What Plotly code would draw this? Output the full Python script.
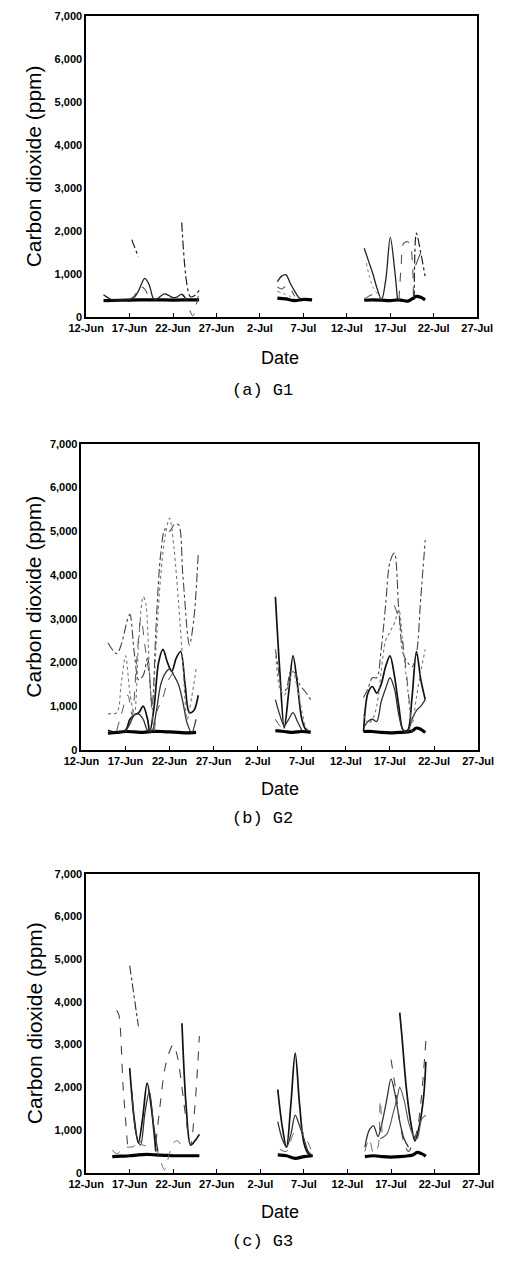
import pandas as pd
import plotly.graph_objects as go

YEAR = "2005"
TICK_DATES = ["06-12", "06-17", "06-22", "06-27", "07-02", "07-07", "07-12", "07-17", "07-22", "07-27"]
TICK_LABELS = ["12-Jun", "17-Jun", "22-Jun", "27-Jun", "2-Jul", "7-Jul", "12-Jul", "17-Jul", "22-Jul", "27-Jul"]
Y_TICKS = [0, 1000, 2000, 3000, 4000, 5000, 6000, 7000]
CAPTIONS = ["(a) G1", "(b) G2", "(c) G3"]
Y_TITLE = "Carbon dioxide (ppm)"
X_TITLE = "Date"

# ---------------- G1 ----------------
G1_BASE_T = ["06-14 00", "06-16 00", "06-18 00", "06-20 00", "06-22 00", "06-24 00", "06-25 00", "06-30 00",
             "07-04 00", "07-05 00", "07-06 00", "07-07 00", "07-08 00", "07-11 00",
             "07-14 00", "07-15 00", "07-16 00", "07-17 00", "07-18 00", "07-19 00", "07-19 12", "07-20 00", "07-20 12", "07-21 00"]
G1_BASE_V = [380, 390, 400, 400, 395, 400, 400, None,
             440, 420, 380, 410, 400, None,
             390, 400, 390, 380, 400, 370, 420, 480, 460, 400]

G1_S2_T = ["06-14 00", "06-14 12", "06-15 00", "06-17 00", "06-17 12", "06-18 00", "06-18 18", "06-19 06", "06-19 18", "06-20 00",
           "06-21 00", "06-21 12", "06-22 00", "06-22 12", "06-23 00", "06-23 12", "06-30 00",
           "07-04 00", "07-04 12", "07-05 00", "07-05 12", "07-06 00", "07-06 12", "07-07 00", "07-11 00",
           "07-14 00", "07-14 12", "07-15 00", "07-15 12", "07-16 00", "07-16 12", "07-17 00", "07-17 12", "07-17 20"]
G1_S2_V = [520, 450, 400, 410, 450, 600, 900, 750, 420, 400,
           540, 500, 450, 470, 530, 420, None,
           820, 950, 980, 780, 600, 450, 420, None,
           1600, 1300, 1000, 650, 400, 900, 1850, 1100, 400]

G1_S3_T = ["06-17 00", "06-17 12", "06-18 06", "06-18 18", "06-19 06", "06-30 00",
           "07-04 00", "07-04 12", "07-05 00", "07-05 12", "07-06 00", "07-11 00",
           "07-14 00", "07-14 12", "07-15 00", "07-15 12", "07-16 00",
           "07-17 00", "07-18 00", "07-18 06", "07-18 12", "07-19 00", "07-19 08", "07-19 16"]
G1_S3_V = [420, 480, 700, 650, 420, None,
           700, 650, 720, 650, 480, None,
           420, 480, 520, 420, 450,
           None, 400, 1200, 1700, 1750, 1650, 400]

G1_S4_T = ["06-17 06", "06-18 00", "06-20 12", "06-23 00", "06-24 00", "06-24 12", "06-25 00", "07-10 00",
           "07-19 18", "07-20 00", "07-20 12", "07-21 00"]
G1_S4_V = [1800, 1400, None, 2200, 470, 500, 620, None,
           400, 1950, 1500, 950]

G1_S5_T = ["06-23 00", "06-23 12", "06-24 06", "06-24 18", "06-25 00"]
G1_S5_V = [520, 400, 30, 350, 600]

G1_S6_T = ["07-19 22", "07-20 12"]
G1_S6_V = [1200, 1500]

G1_S7_T = ["07-04 00", "07-05 12", "07-06 00", "07-10 00", "07-14 06", "07-15 00", "07-16 00"]
G1_S7_V = [600, 480, 420, None, 1250, 700, 420]

# ---------------- G2 ----------------
G2_BASE_T = ["06-15 00", "06-16 00", "06-17 00", "06-18 00", "06-19 00", "06-20 00", "06-21 00", "06-22 00", "06-23 00", "06-24 00", "06-25 00", "06-30 00",
             "07-04 00", "07-05 00", "07-06 00", "07-07 00", "07-08 00", "07-11 00",
             "07-14 00", "07-15 00", "07-16 00", "07-17 00", "07-18 00", "07-19 00", "07-19 12", "07-20 00", "07-20 12", "07-21 00"]
G2_BASE_V = [380, 400, 420, 410, 400, 420, 420, 410, 400, 390, 400, None,
             440, 420, 400, 420, 400, None,
             420, 420, 400, 390, 400, 410, 430, 500, 470, 400]

G2_D1_T = ["06-15 00", "06-16 00", "06-17 00", "06-17 12", "06-18 00", "06-18 12", "06-19 00", "06-19 12", "06-19 18",
           "06-20 06", "06-20 18", "06-21 06", "06-21 18", "06-22 06", "06-22 18", "06-23 06", "06-23 18", "06-24 06", "06-24 18", "06-25 06", "06-30 00",
           "07-04 00", "07-04 12", "07-05 00", "07-05 12", "07-06 00", "07-06 12", "07-07 00", "07-07 12", "07-08 00", "07-11 00",
           "07-14 00", "07-14 12", "07-15 00", "07-15 12", "07-16 00", "07-16 12", "07-17 00", "07-17 12", "07-18 00", "07-18 12",
           "07-19 00", "07-19 12", "07-20 00", "07-20 12", "07-21 00"]
G2_D1_V = [450, 400, 450, 700, 800, 850, 1000, 700, 400,
           1000, 2000, 2300, 2000, 1800, 2100, 2250, 1500, 850, 900, 1250, None,
           3500, 1800, 500, 1300, 2150, 1500, 700, 450, 420, None,
           420, 1300, 1450, 1300, 1500, 1900, 2150, 1700, 1000, 450,
           450, 1200, 2250, 1600, 1150]

G2_D2_T = ["06-17 00", "06-17 12", "06-18 00", "06-18 12", "06-19 00", "06-19 12", "06-20 00", "06-20 12", "06-21 00", "06-21 12",
           "06-22 00", "06-22 12", "06-23 00", "06-23 12", "06-24 00", "06-24 12", "06-25 00", "06-30 00",
           "07-04 00", "07-04 12", "07-05 00", "07-05 12", "07-06 00", "07-06 12", "07-07 00", "07-11 00",
           "07-14 00", "07-14 12", "07-15 00", "07-15 12", "07-16 00", "07-16 12", "07-17 00", "07-17 12", "07-18 00", "07-18 12",
           "07-19 00", "07-19 12", "07-20 00", "07-20 12", "07-21 00"]
G2_D2_V = [420, 600, 800, 820, 700, 450, 430, 900, 1500, 1750,
           1850, 1700, 1500, 1100, 600, 400, 700, None,
           1150, 800, 550, 700, 850, 650, 450, None,
           500, 650, 700, 650, 1100, 1400, 1650, 1400, 800, 450,
           420, 700, 900, 1000, 1150]

G2_L1_T = ["06-15 00", "06-16 00", "06-16 12", "06-17 06", "06-17 12", "06-18 00", "06-18 12", "06-19 00", "06-19 12", "06-20 00",
           "06-20 12", "06-21 00", "06-21 12", "06-22 00", "06-22 12", "06-23 00", "06-23 12", "06-24 06", "06-24 18", "06-25 06", "06-30 00",
           "07-04 00", "07-04 12", "07-04 18", "07-05 06", "07-05 18", "07-06 06", "07-06 18", "07-07 12", "07-08 00", "07-11 00",
           "07-14 00", "07-14 12", "07-15 00", "07-15 12", "07-16 00", "07-16 12", "07-17 00", "07-17 12", "07-18 00", "07-18 12",
           "07-19 00", "07-19 12", "07-20 00", "07-20 12", "07-21 00"]
G2_L1_V = [2450, 2200, 2400, 3000, 3100, 2200, 1600, 1700, 2100, 1000,
           3000, 4500, 5050, 5000, 5150, 5150, 4000, 2400, 3000, 4500, None,
           2300, 1600, 1300, 1400, 1800, 1750, 1500, 1300, 1150, None,
           1200, 1400, 1650, 1650, 2300, 3300, 4300, 4500, 3200, 2200,
           2000, 1900, 2200, 3500, 4800]

G2_L2_T = ["06-15 00", "06-16 00", "06-16 12", "06-17 00", "06-17 12", "06-18 00", "06-18 12", "06-19 00", "06-19 06", "06-19 18",
           "06-20 00", "06-20 12", "06-21 00", "06-21 12", "06-22 00", "06-22 12", "06-23 00", "06-23 12", "06-24 00", "06-24 12", "06-25 00", "06-30 00",
           "07-04 00", "07-04 12", "07-05 00", "07-05 12", "07-06 00", "07-06 12", "07-07 00", "07-07 12", "07-08 00", "07-11 00",
           "07-14 00", "07-14 12", "07-15 00", "07-15 12", "07-16 00", "07-16 12", "07-17 00", "07-17 12", "07-18 00", "07-18 12",
           "07-19 00", "07-19 12", "07-20 00", "07-20 12", "07-21 00"]
G2_L2_V = [830, 850, 1500, 2150, 1300, 800, 2500, 3500, 3400, 1600,
           900, 2500, 4000, 4900, 5300, 4600, 3400, 2000, 700, 1200, 1850, None,
           2300, 1400, 1250, 1500, 1800, 1400, 900, 500, 420, None,
           800, 600, 700, 1000, 1800, 2500, 2700, 2900, 3200, 2300,
           1400, 600, 1200, 1800, 2300]

G2_L3_T = ["06-16 00", "06-16 12", "06-17 06", "06-17 18", "06-18 06", "06-18 18", "06-19 06", "06-19 18", "06-20 06",
           "06-20 12", "06-21 06", "06-21 18", "06-22 12", "06-30 00",
           "07-04 00", "07-04 12", "07-05 00", "07-11 00",
           "07-17 12", "07-18 00", "07-18 12", "07-19 00", "07-19 12"]
G2_L3_V = [440, 800, 1250, 800, 2000, 3000, 2300, 1600, 400,
           850, 1200, 1550, 1800, None,
           700, 550, 500, None,
           3300, 3000, 2400, 1500, 400]

# ---------------- G3 ----------------
G3_BASE_T = ["06-15 00", "06-16 00", "06-17 00", "06-18 00", "06-19 00", "06-20 00", "06-21 00", "06-22 00", "06-23 00", "06-24 00", "06-25 00", "06-30 00",
             "07-04 00", "07-05 00", "07-06 00", "07-07 00", "07-08 00", "07-11 00",
             "07-14 00", "07-15 00", "07-16 00", "07-17 00", "07-18 00", "07-19 00", "07-19 12", "07-20 00", "07-20 12", "07-21 00"]
G3_BASE_V = [380, 390, 400, 420, 430, 420, 410, 400, 400, 400, 400, None,
             420, 400, 340, 380, 400, None,
             380, 400, 380, 370, 380, 400, 420, 480, 450, 390]

G3_D1_T = ["06-17 00", "06-17 12", "06-18 00", "06-18 12", "06-19 00", "06-19 12", "06-20 00", "06-21 12",
           "06-23 00", "06-23 12", "06-24 00", "06-24 12", "06-25 00", "06-30 00",
           "07-04 00", "07-04 12", "07-05 00", "07-05 12", "07-06 00", "07-06 12", "07-07 00", "07-07 12", "07-08 00", "07-11 00",
           "07-18 00", "07-18 06", "07-18 18", "07-19 06", "07-19 18", "07-20 06", "07-20 18", "07-21 00"]
G3_D1_V = [2450, 1300, 700, 1300, 2100, 1500, 500, None,
           3500, 1500, 650, 750, 900, None,
           1950, 1100, 600, 1600, 2800, 1600, 700, 450, 400, None,
           3750, 3200, 2000, 1200, 750, 1100, 1800, 2600]

G3_D2_T = ["06-17 06", "06-17 18", "06-18 06", "06-18 18", "06-19 06", "06-19 18", "06-20 06", "06-30 00",
           "07-04 00", "07-04 12", "07-05 00", "07-05 12", "07-06 00", "07-06 12", "07-07 00", "07-07 12", "07-08 00", "07-11 00",
           "07-14 00", "07-14 12", "07-15 00", "07-15 12", "07-16 00", "07-16 12", "07-17 00", "07-17 12", "07-18 00", "07-18 12", "07-19 00"]
G3_D2_V = [1900, 900, 650, 1400, 1900, 1100, 500, None,
           1200, 800, 600, 900, 1350, 1100, 800, 500, 400, None,
           600, 1000, 1100, 850, 1200, 1700, 2200, 1800, 1200, 800, 600]

G3_D3_T = ["07-15 18", "07-16 12", "07-17 06", "07-17 18", "07-18 00", "07-18 12", "07-19 00", "07-19 12", "07-20 00", "07-20 12", "07-21 00"]
G3_D3_V = [800, 900, 1400, 1800, 2000, 1700, 1200, 900, 800, 1250, 1350]

G3_L1_T = ["06-15 12", "06-15 18", "06-16 06", "06-16 20", "06-18 00",
           "06-20 00", "06-20 12", "06-21 00", "06-21 12", "06-22 00", "06-22 12", "06-23 00", "06-23 12", "06-24 00", "06-24 12", "06-25 00", "06-30 00",
           "07-17 00", "07-17 12", "07-18 00", "07-18 12", "07-19 00", "07-19 12", "07-20 00", "07-20 12", "07-21 00"]
G3_L1_V = [3800, 3700, 2000, 450, None,
           700, 1600, 2400, 2800, 3000, 2700, 2000, 1200, 650, 1600, 3200, None,
           2650, 2000, 1200, 700, 500, 700, 1000, 1800, 3100]

G3_L2_T = ["06-15 00", "06-15 12", "06-16 00", "06-16 12", "06-17 00", "06-17 12", "06-18 00", "06-18 12", "06-19 00", "06-19 12",
           "06-20 00", "06-20 12", "06-21 00", "06-21 12", "06-22 00", "06-22 12", "06-23 00", "06-23 12", "06-30 00",
           "07-04 06", "07-05 00", "07-05 18", "07-06 12", "07-07 00", "07-07 12", "07-08 00", "07-11 00",
           "07-14 00", "07-14 12", "07-15 00", "07-15 12", "07-15 18", "07-16 00"]
G3_L2_V = [530, 450, 520, 600, 600, 620, 800, 650, 630, 620,
           580, 300, 70, 400, 700, 750, 620, 550, None,
           550, 500, 900, 1100, 900, 700, 450, None,
           500, 800, 450, 600, 1700, 800]

G3_L3_T = ["06-17 00", "06-18 00"]
G3_L3_V = [4850, 3430]

PANELS = [
    [(G1_BASE_T, G1_BASE_V, "#000000", 3.2, "solid"),
     (G1_S2_T, G1_S2_V, "#222222", 1.3, "solid"),
     (G1_S3_T, G1_S3_V, "#555555", 1.1, "dash"),
     (G1_S4_T, G1_S4_V, "#222222", 1.2, "dashdot"),
     (G1_S5_T, G1_S5_V, "#444444", 1.0, "dash"),
     (G1_S6_T, G1_S6_V, "#333333", 1.0, "solid"),
     (G1_S7_T, G1_S7_V, "#777777", 1.0, "dot")],
    [(G2_BASE_T, G2_BASE_V, "#000000", 3.2, "solid"),
     (G2_D1_T, G2_D1_V, "#111111", 1.7, "solid"),
     (G2_D2_T, G2_D2_V, "#333333", 1.3, "solid"),
     (G2_L1_T, G2_L1_V, "#444444", 1.1, "dashdot"),
     (G2_L2_T, G2_L2_V, "#777777", 1.1, "dot"),
     (G2_L3_T, G2_L3_V, "#555555", 1.0, "dash")],
    [(G3_BASE_T, G3_BASE_V, "#000000", 3.2, "solid"),
     (G3_D1_T, G3_D1_V, "#111111", 1.7, "solid"),
     (G3_D2_T, G3_D2_V, "#333333", 1.3, "solid"),
     (G3_D3_T, G3_D3_V, "#555555", 1.1, "solid"),
     (G3_L1_T, G3_L1_V, "#444444", 1.1, "dash"),
     (G3_L2_T, G3_L2_V, "#666666", 1.0, "dash"),
     (G3_L3_T, G3_L3_V, "#333333", 1.1, "dashdot")],
]

W, H = 510, 1266
# plot-area pixel boxes: (left, right, top, bottom)
BOXES = [(73, 492, 10, 314), (68, 493, 442, 751), (73, 493, 876, 1178)]
DATE_Y = [355, 790, 1218]
CAP_Y = [388, 820, 1247]


def to_dt(ts):
    return pd.to_datetime([YEAR + "-" + s for s in ts], format="%Y-%m-%d %H")


fig = go.Figure()
layout = dict(width=W, height=H, margin=dict(l=0, r=0, t=0, b=0),
              paper_bgcolor="white", plot_bgcolor="white", showlegend=False,
              annotations=[])

tickvals = pd.to_datetime([YEAR + "-" + d for d in TICK_DATES])
font_family = "Liberation Sans, Arial, sans-serif"

for i, (series, box) in enumerate(zip(PANELS, BOXES)):
    n = "" if i == 0 else str(i + 1)
    l, r, t, b = box
    for ts, vs, col, wd, dash in series:
        fig.add_trace(go.Scatter(x=to_dt(ts), y=vs, mode="lines", xaxis="x" + n, yaxis="y" + n,
                                 line=dict(color=col, width=wd, dash=dash, shape="spline", smoothing=0.9),
                                 connectgaps=False, hoverinfo="skip"))
    layout["xaxis" + n] = dict(domain=[l / W, r / W], anchor="y" + n,
                               range=[tickvals[0], tickvals[-1]],
                               tickvals=tickvals, ticktext=TICK_LABELS,
                               showline=True, mirror=True, linecolor="black", linewidth=1.6,
                               ticks="inside", ticklen=4, tickwidth=1.2, tickcolor="black",
                               showgrid=False, zeroline=False,
                               tickfont=dict(family=font_family, size=11, color="black", weight="bold"))
    layout["yaxis" + n] = dict(domain=[1 - b / H, 1 - t / H], anchor="x" + n,
                               range=[0, 7000], tickvals=Y_TICKS, tickformat=",",
                               showline=True, mirror=True, linecolor="black", linewidth=1.6,
                               ticks="", showgrid=False, zeroline=False,
                               tickfont=dict(family=font_family, size=11, color="black", weight="bold"))
    layout["annotations"].append(dict(text=Y_TITLE, xref="paper", yref="paper", x=17 / W, y=1 - ((t + b) / 2) / H,
                                      textangle=-90, showarrow=False, xanchor="center", yanchor="middle",
                                      font=dict(family=font_family, size=21, color="black")))
    layout["annotations"].append(dict(text=X_TITLE, xref="paper", yref="paper", x=281 / W, y=1 - DATE_Y[i] / H,
                                      showarrow=False, xanchor="center", yanchor="middle",
                                      font=dict(family=font_family, size=18, color="black")))
    layout["annotations"].append(dict(text=CAPTIONS[i], xref="paper", yref="paper", x=262 / W, y=1 - CAP_Y[i] / H,
                                      showarrow=False, xanchor="center", yanchor="middle",
                                      font=dict(family="Liberation Mono, monospace", size=17, color="black")))

fig.update_layout(**layout)
fig.write_html("out.html", config={"displayModeBar": False},
               post_script="document.body.style.margin='0px';document.body.style.overflow='hidden';")
